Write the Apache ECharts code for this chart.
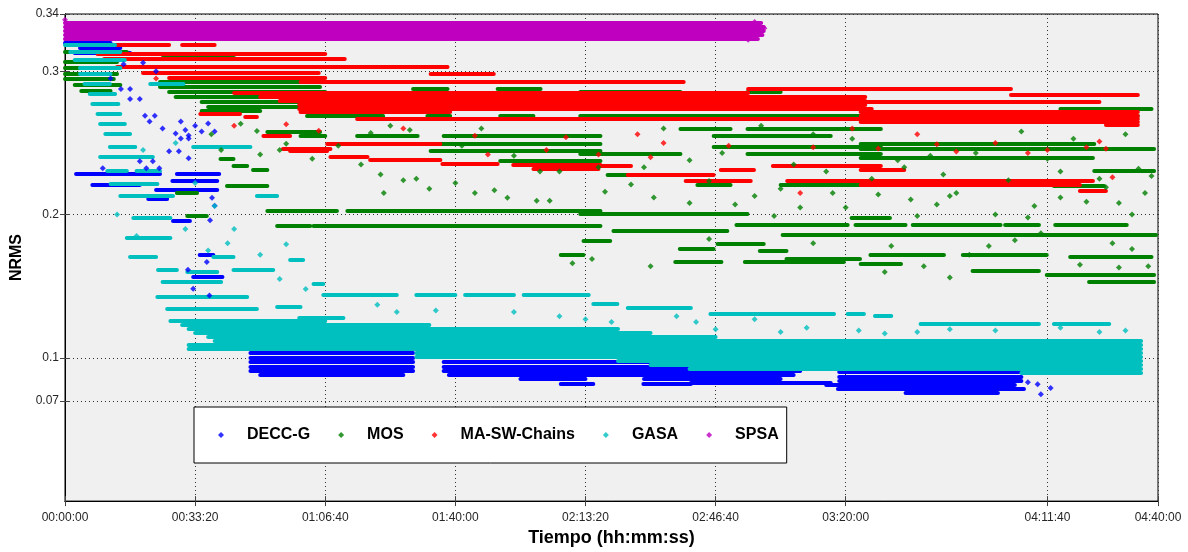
<html>
<head>
<meta charset="utf-8">
<title>NRMS vs Tiempo</title>
<script src="https://cdn.jsdelivr.net/npm/echarts@6/dist/echarts.min.js"></script>
<style>
    body{ margin:0; background:#fff; }
    #container{ width:1188px; height:552px; }
</style>
</head>
<body>
<div id="container"></div>
<script type="text/javascript">
// each streak: [tiempo inicio (s), tiempo fin (s), NRMS]; each point: [tiempo (s), NRMS]
var xTicks = [0, 2000, 4000, 6000, 8000, 10000, 12000, 15100, 16800];
var yTicks = [0.07, 0.1, 0.2, 0.3, 0.34];
var seriesNames = ['DECC-G', 'MOS', 'MA-SW-Chains', 'GASA', 'SPSA'];
var seriesColors = ['#0000ff', '#008000', '#ff0000', '#00bfbf', '#bf00bf'];

var deccStreaks = [
  [0, 700, 0.3200], [230, 850, 0.3166], [150, 1000, 0.3131],
  [170, 1460, 0.2283], [1720, 2370, 0.2283], [1650, 2340, 0.2234], [420, 1150, 0.2207], [1400, 2340, 0.2172],
  [1280, 1570, 0.2110], [1660, 1920, 0.1959], [2070, 2280, 0.1717], [1970, 2420, 0.1566],
  [2850, 5350, 0.1035], [2850, 5350, 0.1000], [2850, 5350, 0.0970], [2850, 5350, 0.0940], [2850, 5350, 0.0910], [3000, 5200, 0.0885],
  [5820, 9000, 0.0970], [5820, 11300, 0.0940], [5820, 11300, 0.0910], [5900, 11200, 0.0880],
  [7000, 8000, 0.0855], [8900, 11000, 0.0855], [7620, 8120, 0.0820], [8890, 9620, 0.0820], [9620, 11770, 0.0827],
  [11900, 14700, 0.0900], [11900, 14700, 0.0870], [11900, 14700, 0.0840], [11700, 14600, 0.0812], [11880, 14740, 0.0786], [12920, 14340, 0.0758]
];
var deccPoints = [
  [860, 0.2876], [1000, 0.2876], [1000, 0.2807], [1150, 0.2807], [1230, 0.2690], [1380, 0.2690], [1300, 0.2650],
  [1500, 0.2600], [1700, 0.2566], [1900, 0.2552], [2100, 0.2580], [1600, 0.2442], [1750, 0.2442], [1150, 0.2373],
  [1350, 0.2373], [1780, 0.2650], [2000, 0.2620], [2200, 0.2635], [1850, 0.2590], [2300, 0.2580], [1780, 0.2531],
  [1900, 0.2531], [1900, 0.2393], [580, 0.2324], [1250, 0.2324], [1450, 0.2324], [2260, 0.2117], [2300, 0.2062],
  [2230, 0.1960], [1890, 0.1614], [1970, 0.1483], [2220, 0.1435], [2180, 0.1669], [900, 0.3050], [1200, 0.3060],
  [1400, 0.3000], [700, 0.2950], [14800, 0.0830], [14950, 0.0815], [15000, 0.0745], [15150, 0.0790]
];

var mosStreaks = [
  [800, 1500, 0.3186], [0, 950, 0.3138], [1500, 2600, 0.3117],
  [0, 800, 0.3069], [0, 700, 0.3028], [0, 800, 0.2986], [0, 750, 0.2945], [150, 850, 0.2904], [250, 700, 0.2862],
  [1460, 3920, 0.2924], [1460, 3920, 0.2890], [1600, 4000, 0.2855], [1700, 3900, 0.2821], [2100, 3900, 0.2786], [2200, 3800, 0.2752], [2100, 3000, 0.2724],
  [5350, 5880, 0.2876], [6650, 7310, 0.2876], [7920, 9460, 0.2855], [10490, 11000, 0.2855],
  [3720, 4890, 0.2690], [5570, 5920, 0.2690], [6690, 7200, 0.2690], [7920, 16490, 0.2690], [15300, 16700, 0.2738],
  [9460, 10230, 0.2600], [10490, 12540, 0.2600], [3110, 3920, 0.2579],
  [3620, 4000, 0.2552], [4490, 5420, 0.2552], [5820, 8230, 0.2552], [9970, 11770, 0.2552],
  [5570, 8230, 0.2497], [12230, 15820, 0.2497], [9970, 12540, 0.2476], [12230, 16740, 0.2462],
  [5620, 8230, 0.2442], [7920, 9460, 0.2428], [10490, 12540, 0.2428],
  [12230, 15800, 0.2400], [6690, 8230, 0.2373], [15820, 16740, 0.2303], [8340, 9460, 0.2276],
  [9720, 10230, 0.2207], [11000, 12540, 0.2207], [15200, 15970, 0.2200],
  [2390, 2590, 0.2393], [2590, 2800, 0.2338], [2890, 3110, 0.2310], [2490, 3110, 0.2200], [1720, 2030, 0.2152], [1880, 2180, 0.1993],
  [3110, 4180, 0.2028], [4340, 8230, 0.2028], [7920, 10490, 0.2007], [12090, 12680, 0.1979],
  [10320, 12030, 0.1931], [12150, 12920, 0.1931], [13030, 14380, 0.1931], [14450, 14970, 0.1931], [15220, 16320, 0.1931],
  [3260, 3770, 0.1924], [3820, 8230, 0.1924], [8430, 10180, 0.1890], [11030, 16770, 0.1862],
  [7970, 8380, 0.1814], [10030, 10740, 0.1793], [9450, 9970, 0.1759], [10680, 11090, 0.1745],
  [7620, 7970, 0.1717], [12380, 13510, 0.1717], [13800, 15090, 0.1717], [15450, 16700, 0.1703],
  [11090, 12220, 0.1690], [9380, 10090, 0.1669], [10450, 11970, 0.1669], [12230, 12850, 0.1655],
  [13950, 14970, 0.1607], [15090, 16740, 0.1579], [15740, 16740, 0.1531]
];
var mosPoints = [
  [2700, 0.2634], [2950, 0.2583], [3400, 0.2494], [2400, 0.2450], [3000, 0.2420], [4550, 0.2350], [4850, 0.2280],
  [5200, 0.2240], [5600, 0.2180], [6000, 0.2220], [6300, 0.2150], [7250, 0.2097], [7450, 0.2097], [6800, 0.2117],
  [5400, 0.2250], [8700, 0.2210], [9050, 0.2120], [9600, 0.2080], [10300, 0.2070], [10900, 0.1990], [11300, 0.2050],
  [11800, 0.2150], [12500, 0.2140], [13000, 0.2105], [13400, 0.2070], [13600, 0.2130], [14300, 0.2000], [14800, 0.1980],
  [15300, 0.2120], [15700, 0.2090], [16400, 0.2000], [16700, 0.2270], [16500, 0.2320], [16000, 0.2190], [15100, 0.2390],
  [14000, 0.2430], [13300, 0.2410], [12800, 0.2380], [12100, 0.2530], [11500, 0.2560], [10700, 0.2620], [14700, 0.2580],
  [15500, 0.2530], [16300, 0.2560], [13700, 0.2150], [12400, 0.2250], [11000, 0.2180], [9900, 0.2235], [7600, 0.2300],
  [8200, 0.2330], [9200, 0.2600], [6400, 0.2600], [5000, 0.2620], [4200, 0.2480], [3800, 0.2390], [2250, 0.2560],
  [3300, 0.2450], [14200, 0.1780], [13200, 0.1640], [12600, 0.1600], [16100, 0.1800], [15000, 0.1870], [13900, 0.1720],
  [16650, 0.1640], [16200, 0.1630], [8100, 0.1690], [9000, 0.1640], [7800, 0.1660],
  [4700, 0.2570], [5300, 0.2590], [6100, 0.2480], [6900, 0.2410], [7300, 0.2300], [8900, 0.2330], [9600, 0.2380],
  [10100, 0.2430], [11200, 0.2350], [11700, 0.2300], [12900, 0.2330], [13500, 0.2280], [14500, 0.2240], [15300, 0.2300],
  [15900, 0.2250], [16600, 0.2150], [16200, 0.2080], [14900, 0.2060], [13100, 0.1990], [12000, 0.2050], [10600, 0.2130],
  [8300, 0.2160], [6600, 0.2170], [4900, 0.2150], [9900, 0.1830], [11500, 0.1800], [12700, 0.1780], [14600, 0.1820],
  [16400, 0.1760], [13600, 0.1560], [15600, 0.1650]
];

var maStreaks = [
  [700, 1600, 0.3186], [1800, 2300, 0.3186],
  [500, 4000, 0.3124], [600, 4300, 0.3090], [800, 5880, 0.3035], [1200, 3900, 0.2993], [5620, 6590, 0.2980], [1600, 4000, 0.2952],
  [3620, 9510, 0.2924], [10500, 14540, 0.2876], [14540, 16490, 0.2834],
  [2600, 10500, 0.2848], [3000, 12300, 0.2821], [3300, 12300, 0.2793], [12230, 15900, 0.2786], [3600, 12300, 0.2766],
  [3600, 12400, 0.2738], [3620, 5920, 0.2717],
  [12230, 16490, 0.2717], [12230, 16490, 0.2690], [4490, 16490, 0.2669], [12230, 16490, 0.2648], [16000, 16490, 0.2627],
  [2080, 2690, 0.2703], [2770, 2950, 0.2683], [3050, 3460, 0.2552], [3350, 4080, 0.2462], [3460, 4030, 0.2442],
  [4030, 5770, 0.2497], [4080, 4650, 0.2407], [4690, 5770, 0.2380],
  [5800, 6650, 0.2352], [6890, 8230, 0.2345], [7900, 8700, 0.2338], [7200, 8200, 0.2317], [10880, 12540, 0.2338],
  [10080, 10590, 0.2310], [12230, 12900, 0.2310],
  [8650, 9970, 0.2276], [9540, 10540, 0.2234], [11100, 12540, 0.2234], [12230, 15800, 0.2234], [12230, 15600, 0.2207], [15600, 16000, 0.2166]
];
var maPoints = [
  [1400, 0.2950], [2600, 0.2620], [3400, 0.2630], [3900, 0.2585], [5200, 0.2600], [6300, 0.2550], [7700, 0.2540],
  [8800, 0.2560], [9200, 0.2500], [10200, 0.2480], [11500, 0.2470], [6500, 0.2420], [7400, 0.2450], [12500, 0.2462],
  [13400, 0.2490], [14300, 0.2500], [15100, 0.2450], [15700, 0.2470], [14800, 0.2430], [13700, 0.2440], [16000, 0.2460],
  [13100, 0.2560], [15900, 0.2510], [12100, 0.2600], [11300, 0.2150], [16100, 0.2260], [9000, 0.2400], [8200, 0.2420]
];

var gasaStreaks = [
  [0, 770, 0.3186], [80, 850, 0.3138], [150, 920, 0.3083], [230, 850, 0.3028], [230, 700, 0.2980], [300, 690, 0.2910], [1310, 1820, 0.2910],
  [380, 770, 0.2841], [420, 820, 0.2772], [500, 850, 0.2703], [540, 920, 0.2634], [620, 1000, 0.2566], [690, 1080, 0.2476], [1970, 2850, 0.2476],
  [540, 1350, 0.2407], [650, 950, 0.2303], [1100, 1460, 0.2303], [700, 1420, 0.2214], [850, 1660, 0.2131], [2950, 3260, 0.2131], [1050, 1620, 0.1979],
  [950, 1620, 0.1841], [2280, 2590, 0.1703], [1000, 1400, 0.1703], [3460, 3660, 0.1683], [1430, 1720, 0.1614], [1880, 2340, 0.1600], [2590, 3200, 0.1614],
  [1500, 2400, 0.1531], [3820, 3970, 0.1517], [1420, 2800, 0.1428], [3260, 3620, 0.1359], [1570, 2950, 0.1345], [1620, 4000, 0.1262], [3600, 4280, 0.1283],
  [3970, 5100, 0.1441], [5400, 6000, 0.1441], [6150, 6900, 0.1441], [7050, 8050, 0.1441], [8120, 8490, 0.1380], [8650, 9620, 0.1352],
  [9920, 11820, 0.1310], [12030, 12280, 0.1310], [12450, 12700, 0.1296], [13150, 14970, 0.1241], [15200, 16050, 0.1241],
  [1800, 5600, 0.1228], [1900, 8500, 0.1200], [2000, 9000, 0.1172], [2200, 10000, 0.1145], [2300, 16540, 0.1117],
  [1900, 16540, 0.1090], [1900, 16540, 0.1062], [5400, 16540, 0.1034], [5400, 16540, 0.1007], [8500, 16540, 0.0979],
  [9000, 16540, 0.0952], [9600, 16540, 0.0924], [14700, 16540, 0.0897]
];
var gasaPoints = [
  [9700, 0.1250], [10000, 0.1200], [11000, 0.1180], [11400, 0.1210], [12200, 0.1190], [12600, 0.1170], [13100, 0.1180],
  [13600, 0.1200], [14300, 0.1190], [15300, 0.1210], [15900, 0.1180], [16300, 0.1190], [5700, 0.1330], [6900, 0.1320],
  [8000, 0.1270], [8400, 0.1250], [4800, 0.1370], [7600, 0.1290], [10600, 0.1270], [9400, 0.1290], [5100, 0.1320],
  [1200, 0.2450], [1700, 0.2500], [2000, 0.2220], [2300, 0.2060], [2600, 0.1900], [2500, 0.1800], [1850, 0.1900],
  [3000, 0.1720], [3300, 0.1550], [3700, 0.1480], [2200, 0.1750], [1100, 0.1850], [800, 0.2000], [3400, 0.1793]
];

var spsaStreaks = [
  [0, 10700, 0.3338], [0, 10740, 0.3310], [0, 10740, 0.3283], [0, 10720, 0.3255], [0, 10650, 0.3228]
];
var spsaPoints = [[0, 0.3360], [10600, 0.3345], [10750, 0.3300], [10500, 0.3220]];

var allStreaks = [deccStreaks, mosStreaks, maStreaks, gasaStreaks, spsaStreaks];
var allPoints = [deccPoints, mosPoints, maPoints, gasaPoints, spsaPoints];

function pad(n){ return (n < 10 ? '0' : '') + n; }
function hms(v){
    var h = Math.floor(v / 3600), m = Math.floor((v % 3600) / 60), s = Math.round(v % 60);
    return pad(h) + ':' + pad(m) + ':' + pad(s);
}

var series = [];
for (var i = 0; i < seriesNames.length; i++) {
    // puntos sueltos primero para que la leyenda use el marcador
    series.push({
        name: seriesNames[i],
        type: 'scatter',
        symbol: 'diamond',
        symbolSize: 6,
        itemStyle: { color: seriesColors[i] },
        data: allPoints[i],
        silent: true
    });
    // rachas de puntos casi iguales, dibujadas como trazo grueso
    series.push({
        name: seriesNames[i],
        type: 'lines',
        coordinateSystem: 'cartesian2d',
        lineStyle: { color: seriesColors[i], width: 4, opacity: 1, cap: 'round' },
        data: allStreaks[i].map(function (s) { return { coords: [[s[0], s[2]], [s[1], s[2]]] }; }),
        silent: true
    });
}

var labelFont = { color: '#262626', fontSize: 12, fontFamily: 'Liberation Sans, Arial' };
var dotted = { show: true, lineStyle: { type: [1, 3], color: '#333', width: 1 } };

var option = {
    animation: false,
    textStyle: { fontFamily: 'Liberation Sans, Arial' },
    grid: { left: 65, right: 30, top: 14, bottom: 45, show: true, backgroundColor: '#f0f0f0', borderColor: '#000', borderWidth: 1 },
    legend: {
        left: 194, top: 407,
        padding: [20, 8, 20, 24],
        itemGap: 28, itemWidth: 6, itemHeight: 6,
        backgroundColor: '#fff', borderColor: '#000', borderWidth: 1, borderRadius: 0,
        selectedMode: false,
        textStyle: { fontSize: 16, fontWeight: 'bold', color: '#000', padding: [0, 0, 0, 18] },
        data: seriesNames.map(function (n, i) { return { name: n, icon: 'diamond', itemStyle: { color: seriesColors[i] } }; })
    },
    xAxis: [{
        type: 'value', min: 0, max: 16800, position: 'bottom',
        name: 'Tiempo (hh:mm:ss)', nameLocation: 'middle', nameGap: 25,
        nameTextStyle: { fontSize: 18, fontWeight: 'bold', color: '#000' },
        axisLine: { show: true, lineStyle: { color: '#000' } },
        axisTick: { show: true, inside: true, length: 5, customValues: xTicks, lineStyle: { color: '#444' } },
        axisLabel: Object.assign({ customValues: xTicks, margin: 11, formatter: hms }, labelFont),
        splitLine: dotted
    }, {
        type: 'value', min: 0, max: 16800, position: 'top',
        axisLine: { show: true, lineStyle: { color: '#000' } },
        axisTick: { show: true, inside: true, length: 5, customValues: xTicks, lineStyle: { color: '#444' } },
        axisLabel: { show: false }, splitLine: { show: false }
    }],
    yAxis: [{
        type: 'value', min: 0, max: 0.34, position: 'left',
        name: 'NRMS', nameLocation: 'middle', nameGap: 38,
        nameTextStyle: { fontSize: 16, fontWeight: 'bold', color: '#000' },
        axisLine: { show: true, lineStyle: { color: '#000' } },
        axisTick: { show: true, inside: true, length: 5, customValues: yTicks, lineStyle: { color: '#444' } },
        axisLabel: Object.assign({ customValues: yTicks, margin: 6, formatter: function (v) { return String(v); } }, labelFont),
        splitLine: dotted
    }, {
        type: 'value', min: 0, max: 0.34, position: 'right',
        axisLine: { show: true, lineStyle: { color: '#000' } },
        axisTick: { show: true, inside: true, length: 5, customValues: yTicks, lineStyle: { color: '#444' } },
        axisLabel: { show: false }, splitLine: { show: false }
    }],
    series: series
};

var myChart = echarts.init(document.getElementById('container'));
myChart.setOption(option);
</script>
</body>
</html>
